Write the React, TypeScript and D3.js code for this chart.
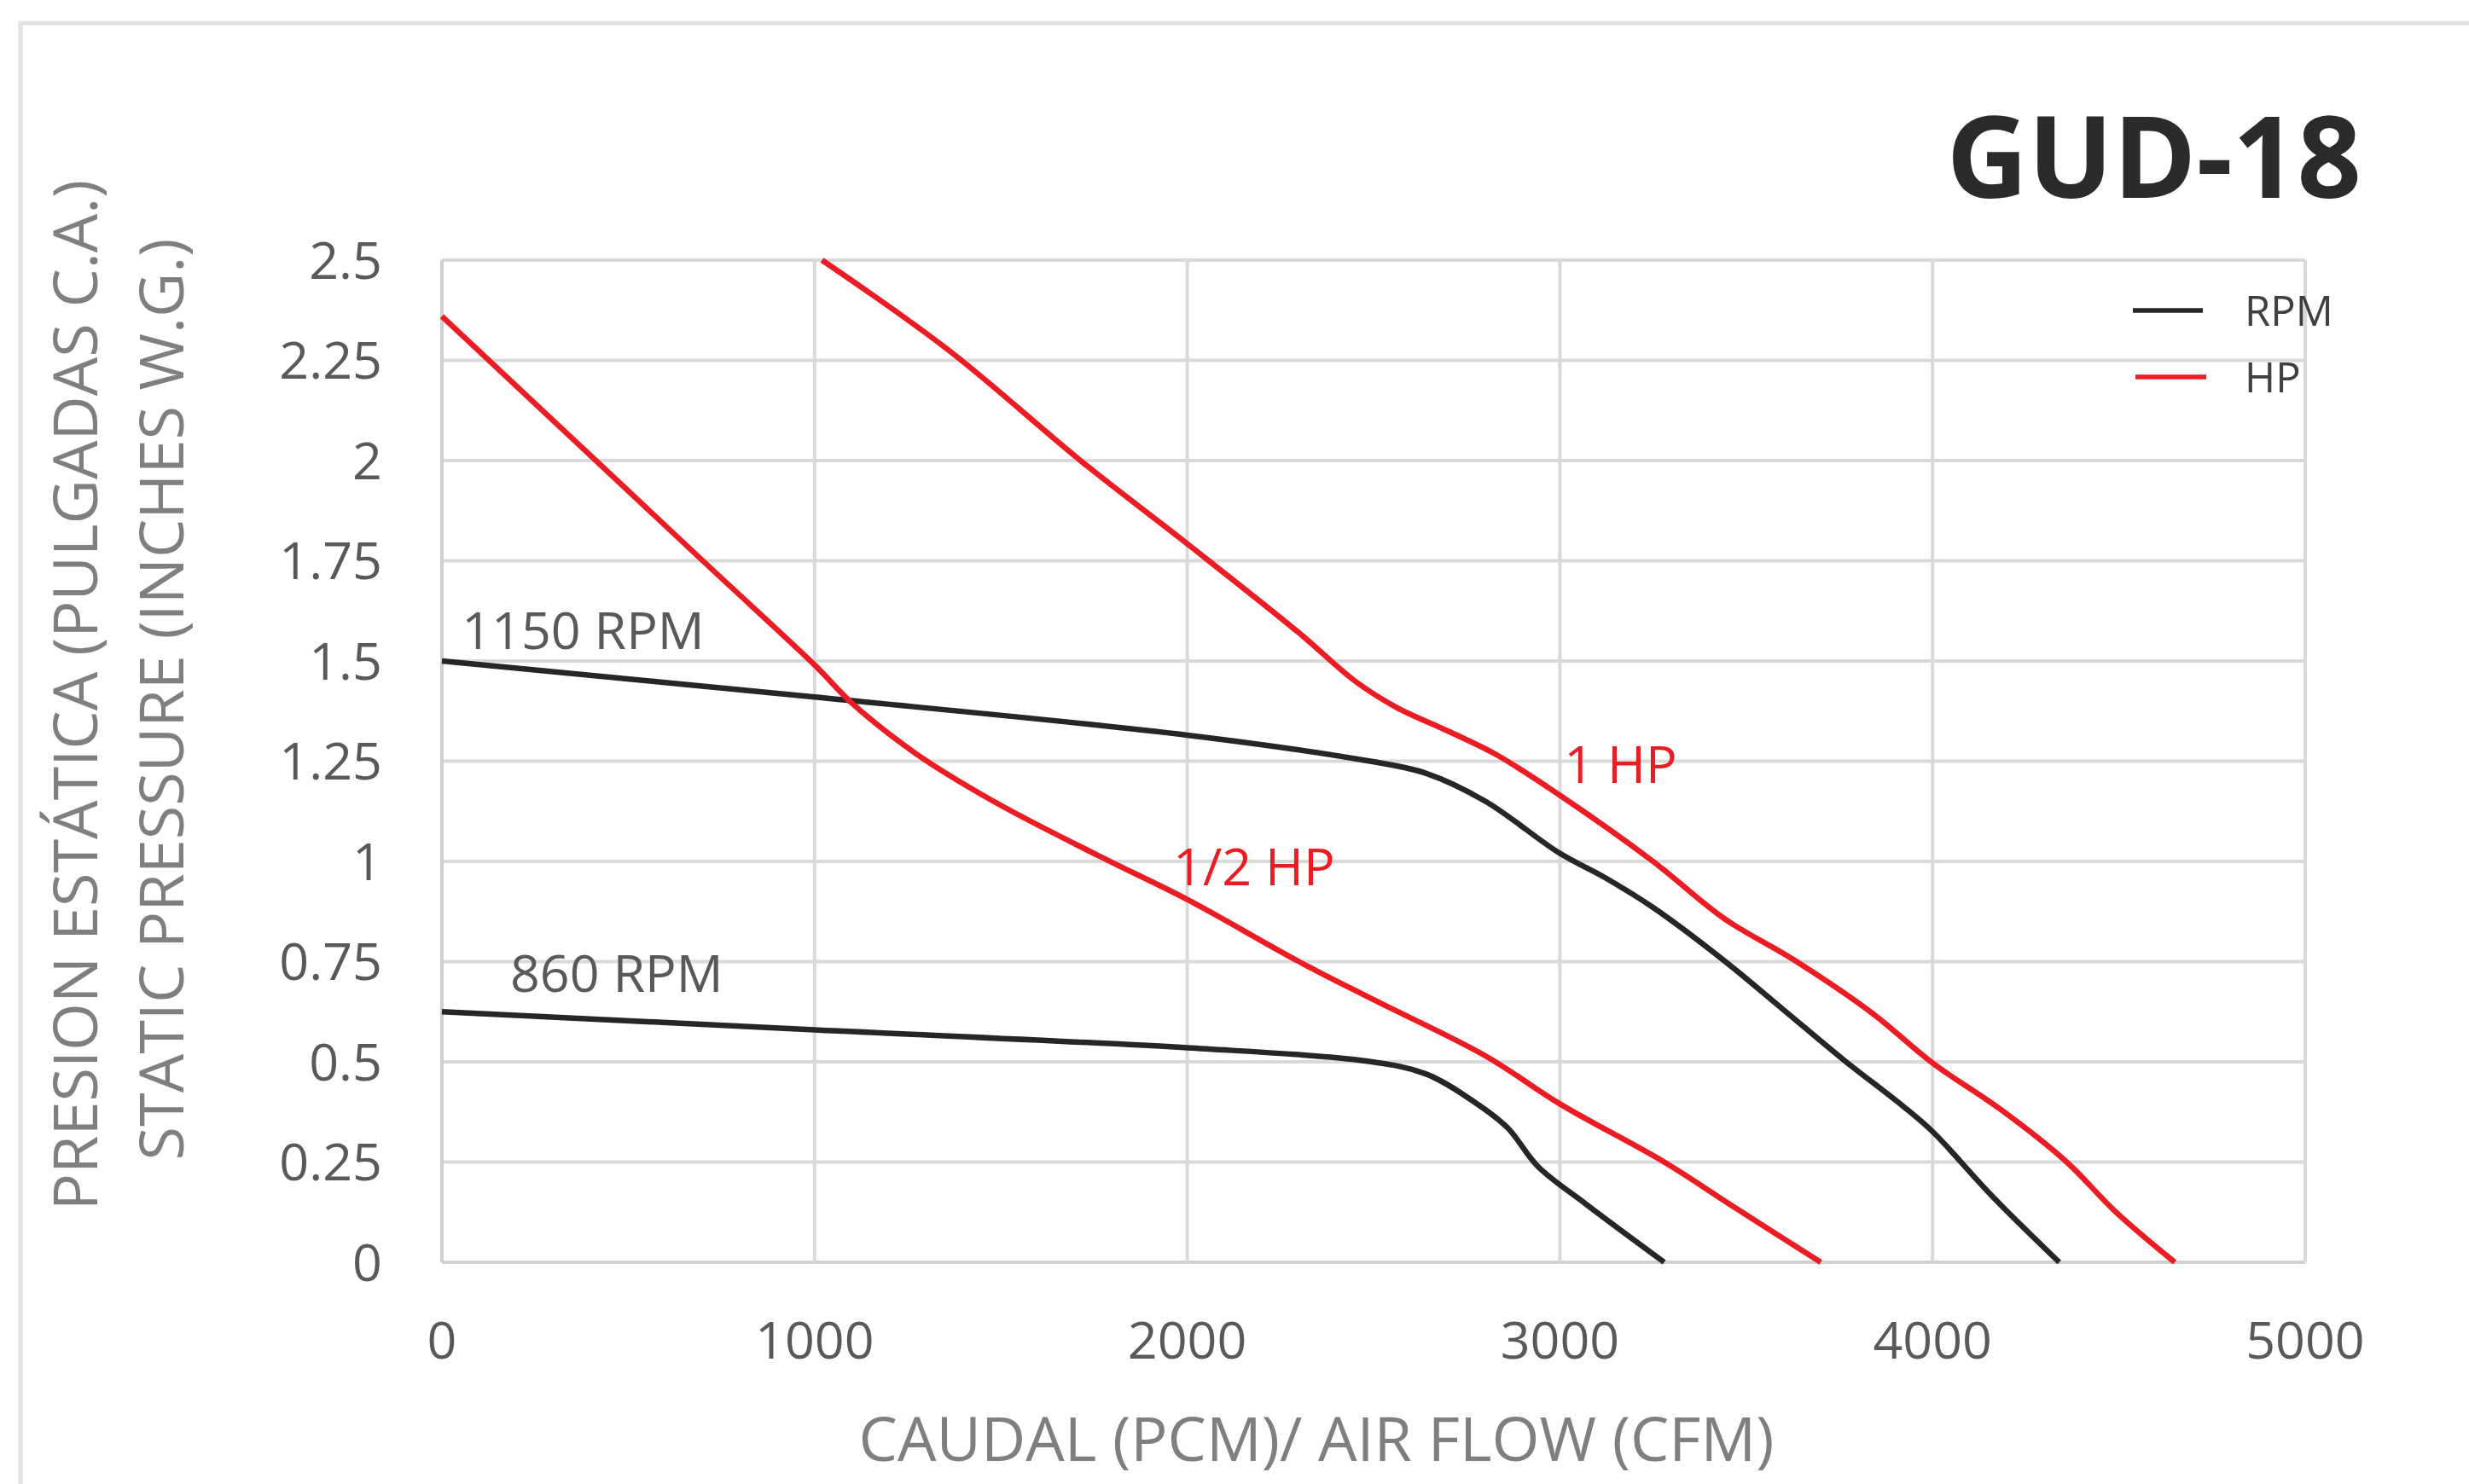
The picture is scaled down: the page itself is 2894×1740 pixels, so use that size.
import { useMemo } from 'react';
import { scaleLinear, line, curveCatmullRom } from 'd3';

type Pt = [number, number];

// curve values (CFM, in. w.g.)
const rpm1150: Pt[] = [
  [0, 1.5], [1000, 1.41], [2000, 1.315], [2477, 1.252], [2640, 1.22], [2800, 1.15],
  [3000, 1.02], [3120, 0.96], [3250, 0.885], [3440, 0.753], [3600, 0.63],
  [3760, 0.506], [3920, 0.39], [4000, 0.326], [4160, 0.165], [4340, 0],
];
const rpm860: Pt[] = [
  [0, 0.625], [1000, 0.58], [2000, 0.535], [2480, 0.502], [2640, 0.47], [2770, 0.4],
  [2860, 0.335], [2940, 0.24], [3070, 0.145], [3280, 0],
];
const hpHalf: Pt[] = [
  [0, 2.36], [700, 1.75], [1000, 1.49], [1100, 1.395], [1270, 1.27], [1480, 1.15],
  [1760, 1.015], [2000, 0.905], [2300, 0.75], [2500, 0.655], [2800, 0.515],
  [3000, 0.395], [3280, 0.25], [3470, 0.136], [3700, 0],
];
const hpOne: Pt[] = [
  [1020, 2.5], [1360, 2.275], [1720, 1.995], [2010, 1.785], [2300, 1.57], [2450, 1.45],
  [2560, 1.385], [2700, 1.325], [2830, 1.266], [3000, 1.165], [3250, 1.0], [3440, 0.858],
  [3630, 0.753], [3840, 0.62], [4000, 0.497], [4180, 0.383], [4360, 0.25], [4490, 0.127],
  [4650, 0],
];

const xTicks = [0, 1000, 2000, 3000, 4000, 5000];
const xTickLabels = ['0', '1000', '2000', '3000', '4000', '5000'];
const yTicks = [0, 0.25, 0.5, 0.75, 1, 1.25, 1.5, 1.75, 2, 2.25, 2.5];
const yTickLabels = ['0', '0.25', '0.5', '0.75', '1', '1.25', '1.5', '1.75', '2', '2.25', '2.5'];

const curveLabels = [
  { text: '1150 RPM', at: [53, 1.53] as Pt, color: '#595959' },
  { text: '860 RPM', at: [183, 0.674] as Pt, color: '#595959' },
  { text: '1/2 HP', at: [1962, 0.94] as Pt, color: '#ed1c24' },
  { text: '1 HP', at: [3011, 1.196] as Pt, color: '#ed1c24' },
];

const W = 2894;
const H = 1740;
const BLACK = '#262626';
const RED = '#ed1c24';
const FONT = '"Open Sans", sans-serif';

const App = () => {
  const x = useMemo(() => scaleLinear().domain([0, 5000]).range([518, 2702]), []);
  const y = useMemo(() => scaleLinear().domain([0, 2.5]).range([1480, 305]), []);
  const path = line<Pt>()
    .x((d) => x(d[0]))
    .y((d) => y(d[1]))
    .curve(curveCatmullRom.alpha(0.5));

  const series = [
    { data: rpm1150, color: BLACK },
    { data: rpm860, color: BLACK },
    { data: hpHalf, color: RED },
    { data: hpOne, color: RED },
  ];

  return (
    <svg
      width={W}
      height={H}
      style={{ position: 'absolute', left: 0, top: 0, background: '#fff' }}
      fontFamily={FONT}
    >
      {/* outer frame */}
      <path d={`M24,${H} V27 H${W}`} fill="none" stroke="#e2e2e2" strokeWidth={5} />

      <text x={2768} y={232} textAnchor="end" fontSize={132} fontWeight={700} fill="#2b2b2b">
        GUD-18
      </text>

      {/* grid */}
      {yTicks.map((t) => (
        <line key={'gy' + t} x1={x(0)} x2={x(5000)} y1={y(t)} y2={y(t)}
          stroke={t === 0 ? '#cfcfcf' : '#d9d9d9'} strokeWidth={4} />
      ))}
      {xTicks.map((t) => (
        <line key={'gx' + t} x1={x(t)} x2={x(t)} y1={y(0)} y2={y(2.5)}
          stroke={t === 0 ? '#cfcfcf' : '#d9d9d9'} strokeWidth={4} />
      ))}

      {/* tick labels */}
      {yTicks.map((t, i) => (
        <text key={'ly' + t} x={448} y={y(t)} dy="0.36em" textAnchor="end" fontSize={61} fill="#595959">
          {yTickLabels[i]}
        </text>
      ))}
      {xTicks.map((t, i) => (
        <text key={'lx' + t} x={x(t)} y={1593} textAnchor="middle" fontSize={61} fill="#595959">
          {xTickLabels[i]}
        </text>
      ))}

      {/* curves */}
      {series.map((s, i) => (
        <path key={i} d={path(s.data) ?? ''} fill="none" stroke={s.color} strokeWidth={6.5}
          strokeLinejoin="round" />
      ))}

      {curveLabels.map((l) => (
        <text key={l.text} x={x(l.at[0])} y={y(l.at[1])} fontSize={61} fill={l.color}>
          {l.text}
        </text>
      ))}

      {/* legend */}
      <line x1={2500} x2={2582} y1={364} y2={364} stroke={BLACK} strokeWidth={5.5} />
      <text x={2631} y={364} dy="0.36em" fontSize={49} fill="#404040">RPM</text>
      <line x1={2503} x2={2586} y1={442} y2={442} stroke={RED} strokeWidth={5.5} />
      <text x={2631} y={442} dy="0.36em" fontSize={49} fill="#404040">HP</text>

      {/* axis titles */}
      <text x={1543} y={1713} textAnchor="middle" fontSize={72} fill="#7f7f7f">
        CAUDAL (PCM)/ AIR FLOW (CFM)
      </text>
      <text transform="translate(114,815) rotate(-90)" textAnchor="middle" fontSize={72} fill="#7f7f7f">
        PRESION ESTÁTICA (PULGADAS C.A.)
      </text>
      <text transform="translate(215,820) rotate(-90)" textAnchor="middle" fontSize={72} fill="#7f7f7f">
        STATIC PRESSURE (INCHES W.G.)
      </text>
    </svg>
  );
};

export default App;
